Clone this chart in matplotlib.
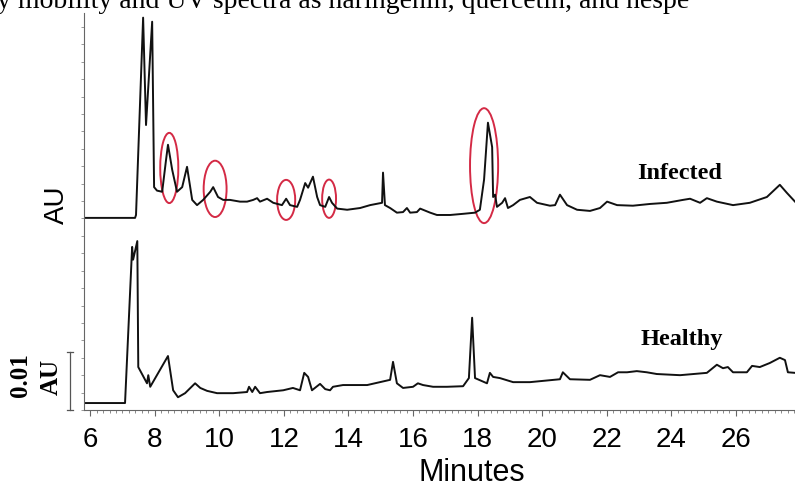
import matplotlib
matplotlib.use('Agg')
import matplotlib.pyplot as plt
from matplotlib.patches import Ellipse
from matplotlib.ticker import MultipleLocator

# retention time (min) and absorbance above each trace's own baseline (mAU)
healthy_t = [5.81, 7.08, 7.30, 7.33, 7.46, 7.49, 7.76, 7.80, 7.86, 8.41, 8.57, 8.72, 8.94, 9.25, 9.41,
             9.62, 9.93, 10.43, 10.86, 10.92, 11.02, 11.11, 11.26, 11.48, 11.98, 12.28, 12.50, 12.63,
             12.75, 12.87, 13.12, 13.28, 13.43, 13.52, 13.83, 14.58, 15.29, 15.38, 15.50, 15.69, 16.00,
             16.15, 16.31, 16.62, 17.05, 17.55, 17.73, 17.83, 17.92, 18.29, 18.38, 18.48, 18.69, 19.10,
             19.62, 20.55, 20.64, 20.86, 21.48, 21.79, 22.10, 22.35, 22.63, 22.93, 23.24, 23.55, 24.27,
             25.10, 25.41, 25.60, 25.75, 25.91, 26.34, 26.50, 26.74, 27.05, 27.36, 27.52, 27.61, 27.83]
healthy_mau = [0, 0, 26.9, 24.7, 27.9, 6.2, 3.4, 4.8, 2.8, 8.1, 2.2, 1.0, 1.7, 3.4, 2.6,
               2.1, 1.7, 1.7, 1.9, 2.8, 1.9, 2.8, 1.7, 1.9, 2.2, 2.6, 2.2, 5.2,
               4.5, 2.2, 3.3, 2.4, 2.2, 2.8, 3.1, 3.1, 4.0, 7.1, 3.4, 2.6, 2.8,
               3.4, 3.1, 2.8, 2.8, 2.9, 4.3, 14.7, 4.3, 3.4, 5.2, 4.5, 4.3, 3.6,
               3.6, 4.1, 5.3, 4.1, 4.0, 4.8, 4.5, 5.3, 5.3, 5.5, 5.3, 5.0, 4.8,
               5.2, 6.6, 6.0, 6.2, 5.3, 5.3, 6.4, 6.2, 6.9, 7.8, 7.4, 5.3, 5.2]

infected_t = [5.81, 7.39, 7.42, 7.64, 7.73, 7.92, 7.98, 8.07, 8.23, 8.35, 8.41, 8.48, 8.54, 8.69, 8.85,
              9.00, 9.16, 9.31, 9.50, 9.72, 9.81, 9.96, 10.12, 10.33, 10.64, 10.86, 11.05, 11.17,
              11.26, 11.48, 11.67, 11.94, 12.07, 12.19, 12.41, 12.50, 12.66, 12.75, 12.90, 13.03,
              13.12, 13.28, 13.40, 13.49, 13.65, 13.96, 14.36, 14.67, 15.04, 15.07, 15.13, 15.29,
              15.50, 15.69, 15.81, 15.91, 16.12, 16.22, 16.53, 16.74, 17.15, 17.55, 17.92, 18.07,
              18.20, 18.32, 18.45, 18.48, 18.54, 18.60, 18.76, 18.85, 18.94, 19.10, 19.31, 19.62,
              19.84, 20.24, 20.40, 20.55, 20.77, 21.08, 21.48, 21.79, 22.01, 22.32, 22.81, 23.34,
              23.86, 24.36, 24.58, 24.89, 25.10, 25.41, 25.91, 26.43, 26.96, 27.36, 27.58, 27.83]
infected_mau = [0, 0, 0.5, 34.5, 16.0, 33.8, 5.3, 4.7, 4.5, 10.0, 12.6, 10.3, 8.3, 4.5, 5.3,
                8.8, 3.1, 2.2, 3.1, 4.5, 5.3, 3.6, 3.1, 3.1, 2.8, 2.8, 3.1, 3.4,
                2.8, 3.3, 2.6, 2.2, 3.3, 2.2, 1.9, 3.1, 6.0, 5.2, 7.1, 3.6,
                2.2, 1.9, 3.6, 2.6, 1.6, 1.4, 1.7, 2.2, 2.6, 7.8, 2.2, 1.7,
                0.9, 1.0, 1.7, 0.9, 1.0, 1.6, 0.9, 0.5, 0.5, 0.7, 0.9, 1.4,
                6.6, 16.4, 12.2, 3.6, 4.0, 1.9, 2.6, 3.4, 1.7, 2.2, 3.1, 3.6,
                2.6, 2.1, 2.2, 4.0, 2.2, 1.4, 1.2, 1.7, 2.8, 2.2, 2.1, 2.4,
                2.6, 3.1, 3.3, 2.6, 3.4, 2.8, 2.2, 2.6, 3.6, 5.7, 4.3, 2.8]

# peaks marked in red: (time, mAU on plot, width min, height mAU)
marked = [(8.45, 41.7, 0.56, 12.1), (9.87, 38.1, 0.71, 9.7), (12.07, 36.2, 0.56, 6.9),
          (13.40, 36.4, 0.43, 6.6), (18.20, 42.1, 0.87, 19.8)]

xticks = [6, 8, 10, 12, 14, 16, 18, 20, 22, 24, 26]

healthy_offset = 1.2
infected_offset = 33.1

fig = plt.figure(figsize=(7.95, 4.87), dpi=100)
ax = fig.add_axes([0.1057, 0.1581, 0.8943, 0.8152])

ax.plot(healthy_t, [v + healthy_offset for v in healthy_mau], color='#111111', lw=1.4)
ax.plot(infected_t, [v + infected_offset for v in infected_mau], color='#111111', lw=1.4)

for cx, cy, w, h in marked:
    ax.add_patch(Ellipse((cx, cy), w, h, fill=False, edgecolor='#d42a45', lw=1.4))

ax.set_xlim(5.81, 27.83)
ax.set_ylim(0, 68.4)

for s in ['top', 'right']:
    ax.spines[s].set_visible(False)
for s in ['left', 'bottom']:
    ax.spines[s].set_color('#666666')
    ax.spines[s].set_linewidth(0.8)

ax.set_xticks(xticks)
ax.set_xticklabels([str(x) for x in xticks], fontsize=20, family='Liberation Sans')
ax.xaxis.set_minor_locator(MultipleLocator(0.2))
ax.tick_params(axis='x', which='major', length=4, width=0.8, color='#666666', pad=8)
ax.tick_params(axis='x', which='minor', length=2.5, width=0.6, color='#777777')
ax.yaxis.set_major_locator(MultipleLocator(3))
ax.tick_params(axis='y', which='major', length=2.5, width=0.6, color='#888888', labelleft=False)
ax.set_xlabel('Minutes', fontsize=22, family='Liberation Sans')
ax.xaxis.set_label_coords(0.546, -0.122)

ax.text(24.27, 40.7, 'Infected', fontsize=17.5, family='Liberation Serif', weight='bold',
        ha='center', va='center')
ax.text(24.33, 12.2, 'Healthy', fontsize=17.5, family='Liberation Serif', weight='bold',
        ha='center', va='center')

# 0.01 AU scale bar
trans = ax.get_yaxis_transform()
ax.plot([-0.0197, -0.0197], [0, 10], color='#555555', lw=0.9, transform=trans, clip_on=False)
ax.plot([-0.024, -0.0155], [0, 0], color='#555555', lw=0.9, transform=trans, clip_on=False)
ax.plot([-0.024, -0.0155], [10, 10], color='#555555', lw=0.9, transform=trans, clip_on=False)

fig.text(0.0717, 0.579, 'AU', rotation=90, fontsize=20, family='Liberation Sans',
         ha='center', va='center')
fig.text(0.0252, 0.230, '0.01', rotation=90, fontsize=18, family='Liberation Serif',
         weight='bold', ha='center', va='center')
fig.text(0.0642, 0.226, 'AU', rotation=90, fontsize=18, family='Liberation Serif',
         weight='bold', ha='center', va='center')

fig.text(-0.004, 0.9836, 'y mobility and UV spectra as naringenin, quercetin, and hespe',
         fontsize=20, family='Liberation Serif', va='baseline', ha='left')

fig.savefig('out.png', dpi=100)
